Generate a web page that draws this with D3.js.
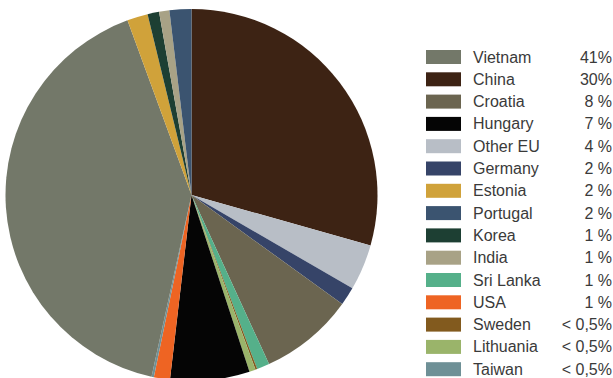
<!DOCTYPE html>
<html>
<head>
<meta charset="utf-8">
<script src="https://cdn.jsdelivr.net/npm/d3@7"></script>
<style>
  body { margin: 0; background: #fff; }
  svg { display: block; }
</style>
</head>
<body>
<div id="chart"></div>
<script>
// legend order
const countries = ["Vietnam", "China", "Croatia", "Hungary", "Other EU", "Germany", "Estonia",
  "Portugal", "Korea", "India", "Sri Lanka", "USA", "Sweden", "Lithuania", "Taiwan"];
const shares = [41, 29.4, 8.2, 6.9, 4, 1.6, 1.8, 1.9, 1, 0.9, 1.1, 1.4, 0.15, 0.55, 0.2];
const shareLabels = ["41%", "30%", "8 %", "7 %", "4 %", "2 %", "2 %",
  "2 %", "1 %", "1 %", "1 %", "1 %", "< 0,5%", "< 0,5%", "< 0,5%"];
// clockwise from 12 o'clock
const pieOrder = ["China", "Other EU", "Germany", "Croatia", "Sri Lanka", "Sweden", "Lithuania",
  "Hungary", "USA", "Taiwan", "Vietnam", "Estonia", "Korea", "India", "Portugal"];

const colors = {
  "Vietnam": "#737869", "China": "#3d2314", "Croatia": "#6b6550", "Hungary": "#050505",
  "Other EU": "#b8bec6", "Germany": "#364468", "Estonia": "#d0a23a", "Portugal": "#3b5470",
  "Korea": "#1d3f33", "India": "#a8a286", "Sri Lanka": "#55b08a", "USA": "#ee6423",
  "Sweden": "#825a1e", "Lithuania": "#9ab46a", "Taiwan": "#6e9096"
};

const width = 613, height = 378;
const cx = 191.5, cy = 195, radius = 186;

const svg = d3.select("#chart").append("svg")
  .attr("width", width)
  .attr("height", height);

const rows = countries.map((c, i) => ({ name: c, value: shares[i], label: shareLabels[i] }));
const byName = new Map(rows.map(d => [d.name, d]));

const pieData = d3.pie()
  .value(d => d.value)
  .sort(null)(pieOrder.map(n => byName.get(n)));

const arc = d3.arc().innerRadius(0).outerRadius(radius);

svg.append("g")
  .attr("transform", `translate(${cx},${cy})`)
  .selectAll("path")
  .data(pieData)
  .join("path")
  .attr("fill", d => colors[d.data.name])
  .attr("d", arc);

// legend
const y = d3.scaleBand()
  .domain(countries)
  .range([45.85, 380.35])
  .paddingInner(0);

const legend = svg.append("g")
  .selectAll("g")
  .data(rows)
  .join("g")
  .attr("transform", d => `translate(0,${y(d.name) + y.bandwidth() / 2})`);

legend.append("rect")
  .attr("x", 426)
  .attr("y", -7)
  .attr("width", 35)
  .attr("height", 14)
  .attr("fill", d => colors[d.name]);

legend.append("text")
  .attr("x", 473)
  .attr("y", 5.5)
  .attr("font-family", "Liberation Sans, Arial, sans-serif")
  .attr("font-size", 16)
  .attr("fill", "#3a3a3a")
  .text(d => d.name);

legend.append("text")
  .attr("x", 612)
  .attr("y", 5.5)
  .attr("text-anchor", "end")
  .attr("font-family", "Liberation Sans, Arial, sans-serif")
  .attr("font-size", 16)
  .attr("fill", "#3a3a3a")
  .text(d => d.label);
</script>
</body>
</html>
